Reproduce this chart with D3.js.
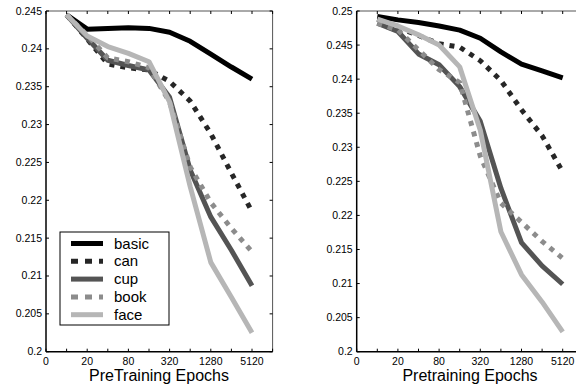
<!DOCTYPE html>
<html>
<head>
<meta charset="utf-8">
<script src="https://cdn.jsdelivr.net/npm/d3@7"></script>
<style>
  body { margin: 0; background: #fff; }
  svg { display: block; font-family: "Liberation Sans", Arial, sans-serif; }
</style>
</head>
<body>
<div id="chart"></div>
<script>
// epochs along the x axis (log2 spaced), tick labels
const epochs = [10, 20, 40, 80, 160, 320, 640, 1280, 2560, 5120];
const xTickLabels = ['0', '20', '80', '320', '1280', '5120'];
const seriesNames = ['basic', 'can', 'cup', 'book', 'face'];

// left panel: PreTraining Epochs
const leftBasic = [0.2445, 0.2426, 0.2427, 0.2428, 0.2427, 0.2422, 0.2410, 0.2393, 0.2376, 0.2360];
const leftCan   = [0.2445, 0.2413, 0.2380, 0.2375, 0.2372, 0.2357, 0.2331, 0.2288, 0.2236, 0.2185];
const leftCup   = [0.2445, 0.2414, 0.2385, 0.2378, 0.2372, 0.2336, 0.2240, 0.2178, 0.2134, 0.2087];
const leftBook  = [0.2445, 0.2418, 0.2388, 0.2383, 0.2375, 0.2330, 0.2244, 0.2197, 0.2163, 0.2132];
const leftFace  = [0.2445, 0.2417, 0.2403, 0.2394, 0.2383, 0.2330, 0.2218, 0.2118, 0.2072, 0.2025];

// right panel: Pretraining Epochs
const rightBasic = [0.2492, 0.2487, 0.2483, 0.2478, 0.2472, 0.2460, 0.2440, 0.2422, 0.2412, 0.2402];
const rightCan   = [0.2488, 0.2476, 0.2464, 0.2452, 0.2447, 0.2427, 0.2398, 0.2355, 0.2317, 0.2264];
const rightCup   = [0.2482, 0.2470, 0.2437, 0.2421, 0.2389, 0.2338, 0.2240, 0.2160, 0.2126, 0.2099];
const rightBook  = [0.2482, 0.2472, 0.2443, 0.2414, 0.2395, 0.2287, 0.2218, 0.2190, 0.2162, 0.2137];
const rightFace  = [0.2488, 0.2478, 0.2465, 0.2450, 0.2418, 0.2325, 0.2176, 0.2113, 0.2073, 0.2029];

const styles = {
    basic: { color: '#000000', dash: null },
    can:   { color: '#262626', dash: '5,6' },
    cup:   { color: '#545454', dash: null },
    book:  { color: '#8c8c8c', dash: '5,6' },
    face:  { color: '#b6b6b6', dash: null }
};

const W = 576, H = 384;
const svg = d3.select('#chart').append('svg')
    .attr('width', W).attr('height', H);

// position on the axis: 0 at index 0, then one step per doubling
const epochIndex = e => Math.log2(e / 10) + 1;

function drawPanel(opts) {
    const x = d3.scaleLinear().domain([0, 11]).range([opts.left, opts.left + 226.6]);
    const y = d3.scaleLinear().domain(opts.yDomain).range([351.7, 11]);
    const g = svg.append('g');

    const yTicks = d3.range(opts.yDomain[0], opts.yDomain[1] + 0.0001, 0.005);
    const fmt = v => String(+v.toFixed(3));

    // frame (top + right)
    g.append('line').attr('x1', x(0)).attr('x2', x(11)).attr('y1', y.range()[1]).attr('y2', y.range()[1])
        .attr('stroke', '#555').attr('stroke-width', 1);
    g.append('line').attr('x1', x(11)).attr('x2', x(11)).attr('y1', y.range()[0]).attr('y2', y.range()[1])
        .attr('stroke', '#555').attr('stroke-width', 1);

    // inward tick marks on all sides
    d3.range(0, 12).forEach(i => {
        g.append('line').attr('x1', x(i)).attr('x2', x(i)).attr('y1', y.range()[0]).attr('y2', y.range()[0] - 3)
            .attr('stroke', '#000');
        g.append('line').attr('x1', x(i)).attr('x2', x(i)).attr('y1', y.range()[1]).attr('y2', y.range()[1] + 3)
            .attr('stroke', '#000');
    });
    yTicks.forEach(v => {
        g.append('line').attr('x1', x(0)).attr('x2', x(0) + 3).attr('y1', y(v)).attr('y2', y(v))
            .attr('stroke', '#000');
        g.append('line').attr('x1', x(11)).attr('x2', x(11) - 3).attr('y1', y(v)).attr('y2', y(v))
            .attr('stroke', '#000');
    });

    // y tick labels
    g.selectAll('.ylab').data(yTicks).enter().append('text')
        .attr('x', x(0) - 4).attr('y', d => y(d) + 3.5)
        .attr('text-anchor', 'end').attr('font-size', 10.5)
        .text(fmt);

    // x tick labels
    g.selectAll('.xlab').data(xTickLabels).enter().append('text')
        .attr('x', (d, i) => x(i * 2)).attr('y', 365)
        .attr('text-anchor', 'middle').attr('font-size', 10.5)
        .text(d => d);

    // x axis title
    g.append('text').attr('x', opts.titleX).attr('y', 381)
        .attr('text-anchor', 'middle').attr('font-size', 16)
        .text(opts.title);

    const line = d3.line()
        .x((d, i) => x(epochIndex(epochs[i])))
        .y(d => y(d));

    opts.series.forEach((vals, k) => {
        const st = styles[seriesNames[k]];
        g.append('path').datum(vals)
            .attr('d', line)
            .attr('fill', 'none')
            .attr('stroke', st.color)
            .attr('stroke-width', 5)
            .attr('stroke-linejoin', 'round')
            .attr('stroke-dasharray', st.dash);
    });

    // left and bottom axis lines
    g.append('line').attr('x1', x(0)).attr('x2', x(0)).attr('y1', y.range()[0]).attr('y2', y.range()[1])
        .attr('stroke', '#000').attr('stroke-width', 1.5);
    g.append('line').attr('x1', x(0)).attr('x2', x(11)).attr('y1', y.range()[0]).attr('y2', y.range()[0])
        .attr('stroke', '#000').attr('stroke-width', 1.5);

    return g;
}

const gl = drawPanel({
    left: 46, yDomain: [0.2, 0.245], title: 'PreTraining Epochs', titleX: 159,
    series: [leftBasic, leftCan, leftCup, leftBook, leftFace]
});

drawPanel({
    left: 356.7, yDomain: [0.2, 0.25], title: 'Pretraining Epochs', titleX: 470,
    series: [rightBasic, rightCan, rightCup, rightBook, rightFace]
});

// legend in the left panel
const legend = gl.append('g').attr('transform', 'translate(60,232)');
legend.append('rect').attr('width', 109).attr('height', 93)
    .attr('fill', '#fff').attr('stroke', '#000').attr('stroke-width', 1);
seriesNames.forEach((name, i) => {
    const st = styles[name];
    const yy = 11.5 + i * 17.8;
    legend.append('line').attr('x1', 11).attr('x2', 43).attr('y1', yy).attr('y2', yy)
        .attr('stroke', st.color).attr('stroke-width', 5)
        .attr('stroke-dasharray', st.dash ? '7,7' : null);
    legend.append('text').attr('x', 54).attr('y', yy + 5)
        .attr('font-size', 15).text(name);
});
</script>
</body>
</html>
